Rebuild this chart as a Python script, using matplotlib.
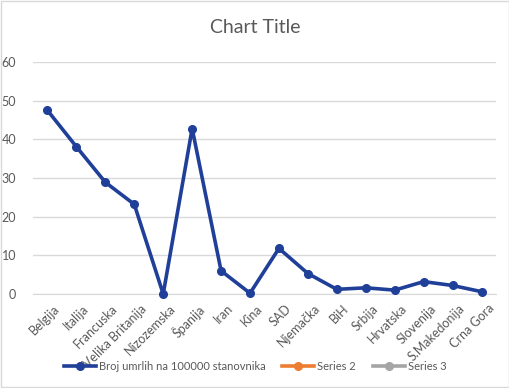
import matplotlib.pyplot as plt
import matplotlib.transforms as mtransforms

countries = ["Belgija", "Italija", "Francuska", "Velika Britanija", "Nizozemska",
             "Španija", "Iran", "Kina", "SAD", "Njemačka", "BiH", "Srbija",
             "Hrvatska", "Slovenija", "S.Makedonija", "Crna Gora"]
deaths = [47.5, 38.1, 28.9, 23.2, 0.0, 42.8, 6.0, 0.2, 11.8, 5.3,
          1.2, 1.6, 1.0, 3.2, 2.2, 0.6]
series2 = []
series3 = []

plt.rcParams['font.family'] = ['Lato', 'DejaVu Sans']

fig = plt.figure(figsize=(5.1, 3.88), dpi=100)
ax = fig.add_axes([0.0647, 0.2423, 0.9078, 0.5977])

x = list(range(len(countries)))
ax.plot(x, deaths, color="#1F3F99", lw=2.6, marker="o", ms=5.5,
        label="Broj umrlih na 100000 stanovnika", clip_on=False, zorder=3)
ax.plot(series2, series2, color="#ED7D31", lw=2.6, marker="o", ms=5.5, label="Series 2")
ax.plot(series3, series3, color="#A5A5A5", lw=2.6, marker="o", ms=5.5, label="Series 3")

ax.set_xlim(-0.5, len(countries) - 0.5)
ax.set_ylim(0, 60)
ax.set_yticks(range(0, 61, 10))
ax.yaxis.grid(True, color="#D9D9D9", lw=1)
ax.set_axisbelow(True)
for s in ["top", "right", "left"]:
    ax.spines[s].set_visible(False)
ax.spines["bottom"].set_color("#D9D9D9")
ax.tick_params(axis="y", length=0, labelsize=9, labelcolor="#595959", pad=12)
ax.tick_params(axis="x", length=0, labelsize=9, labelcolor="#595959", pad=6)
ax.set_xticks(x)
ax.set_xticklabels(countries, rotation=45, ha="right", rotation_mode="anchor")
shift = mtransforms.ScaledTranslation(6 / 100, 0, fig.dpi_scale_trans)
for lab in ax.get_xticklabels():
    lab.set_transform(lab.get_transform() + shift)

fig.text(0.5, 0.93, "Chart Title", ha="center", va="center", fontsize=14, color="#595959")

fig.legend(loc="center", bbox_to_anchor=(0.5, 0.055), ncol=3, frameon=False,
           fontsize=8, handlelength=2.9, columnspacing=1.5, handletextpad=0.25,
           labelcolor="#595959")

fig.patches.append(plt.Rectangle((0.002, 0.002), 0.996, 0.996, transform=fig.transFigure,
                                 fill=False, edgecolor="#D9D9D9", lw=1))

fig.savefig("out.png", dpi=100)
